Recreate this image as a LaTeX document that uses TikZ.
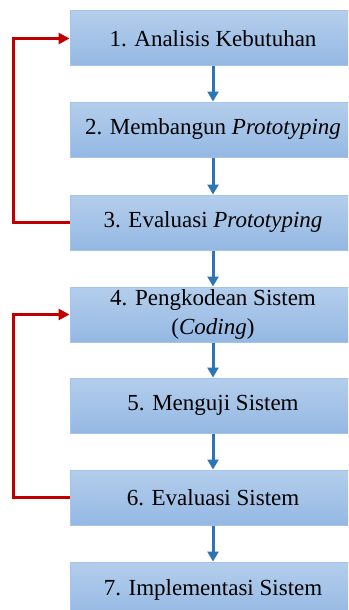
\documentclass[tikz,border=0pt]{standalone}
\usepackage{fontspec}
\setmainfont{Liberation Serif}
\usetikzlibrary{arrows.meta}
\definecolor{boxtop}{HTML}{B4CEEC}
\definecolor{boxbot}{HTML}{94B8E3}
\definecolor{boxline}{HTML}{A6C4E8}
\definecolor{flowblue}{HTML}{2E75B6}
\definecolor{loopred}{HTML}{C00000}
\begin{document}
\begin{tikzpicture}[x=1pt,y=-1pt,
 stepbox/.style={rectangle, draw=boxline, line width=1pt, top color=boxtop, bottom color=boxbot,
   minimum width=286pt, minimum height=55pt, inner sep=0pt,
   font=\fontsize{23}{29}\selectfont, text=black, align=center},
 flow/.style={draw=flowblue, line width=3pt, -{Triangle[length=10pt,width=11pt]}},
 loopline/.style={draw=loopred, line width=3pt, line join=miter, -{Triangle[length=11pt,width=11pt]}}]
\useasboundingbox (0,0) rectangle (348,610);
\clip (0,0) rectangle (348,610);
\node[stepbox] (s1) at (213,38.5) {1. Analisis Kebutuhan};
\node[stepbox] (s2) at (213,129.5) {2. Membangun \textit{Prototyping}};
\node[stepbox] (s3) at (213,222.5) {3. Evaluasi \textit{Prototyping}};
\node[stepbox] (s4) at (213,314.5) {4. Pengkodean Sistem\\(\textit{Coding})};
\node[stepbox] (s5) at (213,405.5) {5. Menguji Sistem};
\node[stepbox] (s6) at (213,497.5) {6. Evaluasi Sistem};
\node[stepbox] (s7) at (213,589.5) {7. Implementasi Sistem};
\draw[flow] (s1) -- (s2);
\draw[flow] (s2) -- (s3);
\draw[flow] (s3) -- (s4);
\draw[flow] (s4) -- (s5);
\draw[flow] (s5) -- (s6);
\draw[flow] (s6) -- (s7);
\coordinate (l1) at (13.5,222.5);
\coordinate (l2) at (13.5,497.5);
\draw[loopline] (s3.west) -- (l1) |- (s1.west);
\draw[loopline] (s6.west) -- (l2) |- (s4.west);
\end{tikzpicture}
\end{document}
